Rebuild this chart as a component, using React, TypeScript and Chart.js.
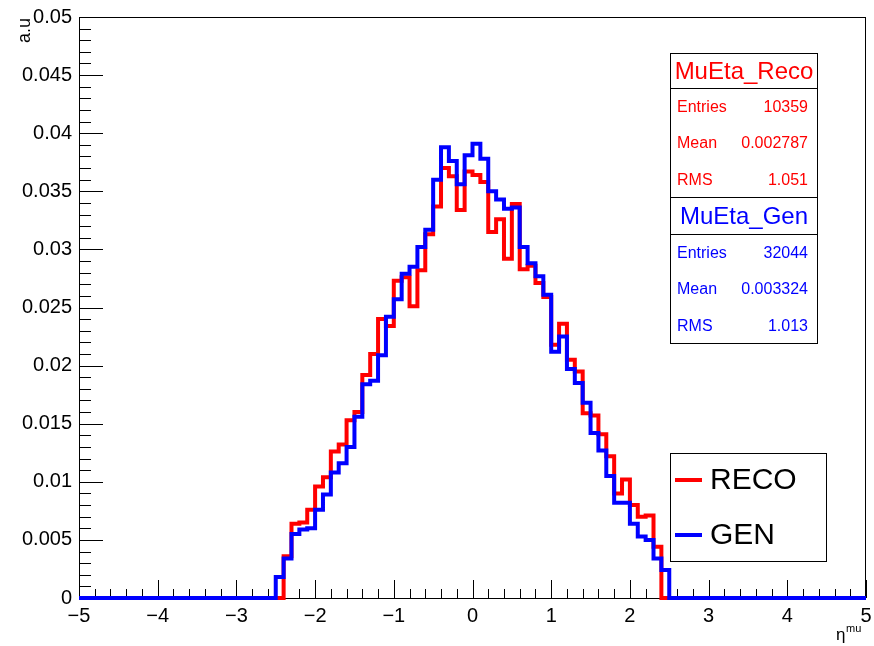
import { useEffect, useRef } from "react";
import { Chart, registerables } from "chart.js";

Chart.register(...registerables);

const FONT = "'Liberation Sans', Arial, Helvetica, sans-serif";

// Histogram: 100 bins of 0.1 from -5 to 5; only bins from -2.5 to 2.5 are filled
const axisMin = -5;
const axisMax = 5;
const firstFilledEdge = -2.5;
const binWidth = 0.1;

// GEN (blue) bin contents, bins -2.5..2.5
const genValues = [
  0.0018, 0.0034, 0.0055, 0.0059, 0.006, 0.0076, 0.0089, 0.0108, 0.0116, 0.013,
  0.0156, 0.0184, 0.0187, 0.0209, 0.0242, 0.0257, 0.0279, 0.0285, 0.0302, 0.0317,
  0.036, 0.0388, 0.0376, 0.0356, 0.0381, 0.0391, 0.0378, 0.035, 0.0343, 0.0335,
  0.0336, 0.0302, 0.0288, 0.0277, 0.0261, 0.0212, 0.0225, 0.0197, 0.0185, 0.0168,
  0.0142, 0.0127, 0.0105, 0.0082, 0.0082, 0.0064, 0.0053, 0.005, 0.0034, 0.0024,
];

// RECO (red) bin contents, bins -2.5..2.5
const recoValues = [
  0, 0.0036, 0.0064, 0.0065, 0.0076, 0.0096, 0.0104, 0.0126, 0.0132, 0.0153,
  0.016, 0.0192, 0.021, 0.024, 0.0234, 0.0273, 0.0276, 0.0251, 0.0282, 0.0313,
  0.0337, 0.037, 0.0363, 0.0334, 0.0367, 0.0364, 0.0358, 0.0315, 0.0326, 0.0292,
  0.0339, 0.0283, 0.0286, 0.0271, 0.0259, 0.0218, 0.0236, 0.0205, 0.0195, 0.0159,
  0.0157, 0.0141, 0.0122, 0.009, 0.0102, 0.008, 0.007, 0.0071, 0.0044, 0,
];

const xTickValues = [-5, -4, -3, -2, -1, 0, 1, 2, 3, 4, 5];
const xTickLabels = ["\u22125", "\u22124", "\u22123", "\u22122", "\u22121", "0", "1", "2", "3", "4", "5"];
const yTickValues = [0, 0.005, 0.01, 0.015, 0.02, 0.025, 0.03, 0.035, 0.04, 0.045, 0.05];
const yTickLabels = ["0", "0.005", "0.01", "0.015", "0.02", "0.025", "0.03", "0.035", "0.04", "0.045", "0.05"];

const recoStats = [
  ["Entries", "10359"],
  ["Mean", "0.002787"],
  ["RMS", "1.051"],
];
const genStats = [
  ["Entries", "32044"],
  ["Mean", "0.003324"],
  ["RMS", "1.013"],
];

const RED = "#ff0000";
const BLUE = "#0000ff";

function toSteps(values: number[]) {
  const pts: { x: number; y: number }[] = [{ x: axisMin, y: 0 }];
  values.forEach((v, j) => {
    pts.push({ x: Math.round((firstFilledEdge + binWidth * j) * 10) / 10, y: v });
  });
  pts.push({ x: Math.round((firstFilledEdge + binWidth * values.length) * 10) / 10, y: 0 });
  pts.push({ x: axisMax, y: 0 });
  return pts;
}

const framePlugin = {
  id: "rootFrame",
  beforeDatasetsDraw(chart: any) {
    const { ctx, chartArea, scales } = chart;
    const { left, right, top, bottom } = chartArea;
    ctx.save();
    ctx.strokeStyle = "#000";
    ctx.lineWidth = 1;
    ctx.strokeRect(Math.round(left) + 0.5, Math.round(top) + 0.5, Math.round(right - left) - 1, Math.round(bottom - top));
    ctx.beginPath();
    for (let k = 0; k <= 50; k++) {
      const y = Math.round(scales.y.getPixelForValue(k * 0.001)) + 0.5;
      const len = k % 5 === 0 ? 24 : 12;
      ctx.moveTo(left, y);
      ctx.lineTo(left + len, y);
    }
    for (let k = 0; k <= 50; k++) {
      const x = Math.round(scales.x.getPixelForValue(axisMin + 0.2 * k)) + 0.5;
      const len = k % 5 === 0 ? 18 : 9;
      ctx.moveTo(x, bottom);
      ctx.lineTo(x, bottom - len);
    }
    ctx.stroke();
    ctx.restore();
  },
  afterDraw(chart: any) {
    const { ctx } = chart;
    ctx.save();
    ctx.fillStyle = "#000";
    // y title
    ctx.save();
    ctx.translate(25, 18);
    ctx.rotate(-Math.PI / 2);
    ctx.font = `18px ${FONT}`;
    ctx.textAlign = "right";
    ctx.textBaseline = "middle";
    ctx.fillText("a.u", 0, 0);
    ctx.restore();
    // x title
    ctx.textAlign = "left";
    ctx.textBaseline = "alphabetic";
    ctx.font = `17px ${FONT}`;
    ctx.fillText("\u03B7", 836, 640);
    ctx.font = `11px ${FONT}`;
    ctx.fillText("mu", 846, 632);

    // stats boxes
    const bx = 670.5, bw = 147;
    const drawBox = (y0: number, y1: number, y2: number, title: string, stats: string[][], color: string) => {
      ctx.fillStyle = "#fff";
      ctx.fillRect(bx, y0, bw, y2 - y0);
      ctx.strokeStyle = "#000";
      ctx.lineWidth = 1;
      ctx.strokeRect(bx, y0, bw, y2 - y0);
      ctx.beginPath();
      ctx.moveTo(bx, y1);
      ctx.lineTo(bx + bw, y1);
      ctx.stroke();
      ctx.fillStyle = color;
      ctx.textBaseline = "middle";
      ctx.textAlign = "center";
      ctx.font = `24px ${FONT}`;
      ctx.fillText(title, bx + bw / 2, (y0 + y1) / 2 + 1);
      ctx.font = `16px ${FONT}`;
      const rowH = (y2 - y1) / 3;
      stats.forEach((s, i) => {
        const cy = y1 + rowH * (i + 0.5) + 1;
        ctx.textAlign = "left";
        ctx.fillText(s[0], 677, cy);
        ctx.textAlign = "right";
        ctx.fillText(s[1], 808, cy);
      });
    };
    drawBox(53.5, 88.5, 197.5, "MuEta_Reco", recoStats, RED);
    drawBox(197.5, 234.5, 343.5, "MuEta_Gen", genStats, BLUE);

    // legend
    ctx.fillStyle = "#fff";
    ctx.fillRect(670.5, 453.5, 156, 108);
    ctx.strokeStyle = "#000";
    ctx.lineWidth = 1;
    ctx.strokeRect(670.5, 453.5, 156, 108);
    const entries: [string, string, number][] = [["RECO", RED, 480], ["GEN", BLUE, 535]];
    entries.forEach(([label, color, y]) => {
      ctx.strokeStyle = color;
      ctx.lineWidth = 4;
      ctx.beginPath();
      ctx.moveTo(675, y);
      ctx.lineTo(702, y);
      ctx.stroke();
      ctx.fillStyle = "#000";
      ctx.font = `30px ${FONT}`;
      ctx.textAlign = "left";
      ctx.textBaseline = "middle";
      ctx.fillText(label, 710, y + 1);
    });
    ctx.restore();
  },
};

export default function App() {
  const ref = useRef<HTMLCanvasElement>(null);
  useEffect(() => {
    const chart = new Chart(ref.current as HTMLCanvasElement, {
      type: "line",
      data: {
        datasets: [
          {
            label: "GEN",
            data: toSteps(genValues),
            borderColor: BLUE,
            borderWidth: 4,
            stepped: "before",
            pointRadius: 0,
            fill: false,
            clip: 8,
          } as any,
          {
            label: "RECO",
            data: toSteps(recoValues),
            borderColor: RED,
            borderWidth: 4,
            stepped: "before",
            pointRadius: 0,
            fill: false,
            clip: 8,
          } as any,
        ],
      },
      options: {
        animation: false,
        responsive: false,
        events: [],
        layout: { padding: { top: 17, right: 8, left: 0, bottom: 0 } },
        plugins: { legend: { display: false }, tooltip: { enabled: false } },
        scales: {
          x: {
            type: "linear",
            min: axisMin,
            max: axisMax,
            afterFit: (s: any) => {
              s.height = 48;
              s.paddingLeft = 0;
              s.paddingRight = 0;
            },
            afterBuildTicks: (s: any) => {
              s.ticks = xTickValues.map((v) => ({ value: v }));
            },
            grid: { display: false, drawTicks: false },
            border: { display: false },
            ticks: {
              padding: 6,
              color: "#000",
              font: { family: FONT, size: 20 },
              maxRotation: 0,
              autoSkip: false,
              callback: (_v: any, i: number) => xTickLabels[i],
            },
          },
          y: {
            type: "linear",
            min: 0,
            max: 0.05,
            afterFit: (s: any) => {
              s.width = 79;
              s.paddingTop = 0;
              s.paddingBottom = 0;
            },
            afterBuildTicks: (s: any) => {
              s.ticks = yTickValues.map((v) => ({ value: v }));
            },
            grid: { display: false, drawTicks: false },
            border: { display: false },
            ticks: {
              padding: 7,
              color: "#000",
              font: { family: FONT, size: 20 },
              autoSkip: false,
              callback: (_v: any, i: number) => yTickLabels[i],
            },
          },
        },
      },
      plugins: [framePlugin],
    });
    return () => chart.destroy();
  }, []);
  return (
    <div style={{ position: "absolute", left: 0, top: 0, width: 874, height: 646, background: "#fff" }}>
      <canvas ref={ref} width={874} height={646} style={{ display: "block", width: 874, height: 646 }} />
    </div>
  );
}
